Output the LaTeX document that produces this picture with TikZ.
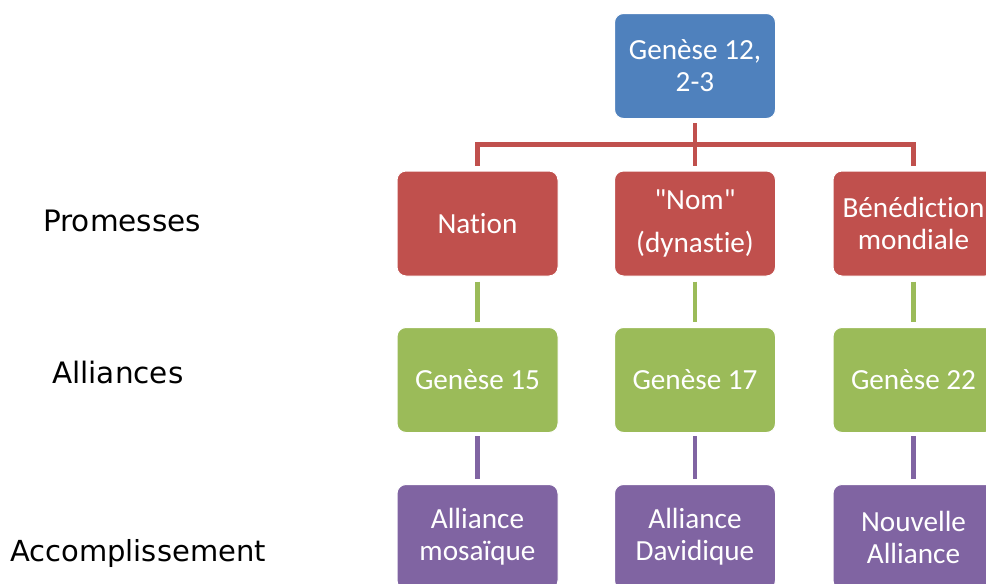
\documentclass[tikz,border=0pt]{standalone}
\usepackage{fontspec}
\setmainfont{Carlito}[Ligatures={TeXOff,CommonOff}]
\newfontfamily\lblfont{DejaVu Sans}
\usetikzlibrary{calc}
\definecolor{cblue}{HTML}{4F81BD}
\definecolor{cred}{HTML}{C0504D}
\definecolor{cgreen}{HTML}{9BBB59}
\definecolor{cpurple}{HTML}{8064A2}
\tikzset{
  boxstyle/.style={draw=white, line width=1pt, rounded corners=9pt, minimum width=161pt, minimum height=105pt, inner sep=0pt, align=center, text=white, font=\fontsize{29.2}{32}\selectfont},
  bluebox/.style={boxstyle, fill=cblue},
  redbox/.style={boxstyle, fill=cred},
  greenbox/.style={boxstyle, fill=cgreen},
  purplebox/.style={boxstyle, fill=cpurple},
  lbl/.style={anchor=base west, inner sep=0pt, font=\lblfont\fontsize{29.5}{32}\selectfont},
  redln/.style={draw=cred, line width=4.5pt},
  greenln/.style={draw=cgreen, line width=4.5pt},
  purpleln/.style={draw=cpurple, line width=4.5pt}
}
\begin{document}
\begin{tikzpicture}[x=1pt,y=-1pt]
\useasboundingbox (0,0) rectangle (986,584);
\clip (0,0) rectangle (986,584);
\fill[white] (0,0) rectangle (986,584);
% boxes
\node[bluebox] (top) at (695,66) {Genèse 12,\\2-3};
\node[redbox] (n1) at (477.5,223.5) {Nation};
\node[redbox] (n2) at (695,223.5) {"Nom"\\[11pt](dynastie)};
\node[redbox] (n3) at (913.5,223.5) {Bénédiction\\mondiale};
\node[greenbox] (g1) at (477.5,380) {Genèse 15};
\node[greenbox] (g2) at (695,380) {Genèse 17};
\node[greenbox] (g3) at (913.5,380) {Genèse 22};
\node[purplebox] (p1) at (477.5,537) {Alliance\\mosaïque};
\node[purplebox] (p2) at (695,537) {Alliance\\Davidique};
\node[purplebox] (p3) at (913.5,537) {Nouvelle\\Alliance};
% labels
\node[lbl] (lp) at (43,231) {Promesses};
\node[lbl] (la) at (52,383) {Alliances};
\node[lbl, font=\lblfont\fontsize{29}{32}\selectfont] (lc) at (10,561) {Accomplissement};
% connectors
\draw[redln] ($(top.south)+(0,4)$) -- ($(n2.north)+(0,-5)$);
\draw[redln] ($(n1.north)+(0,-5)$) |- ($(n3.north)+(0,-26)$) -- ($(n3.north)+(0,-5)$);
\foreach \a/\b in {n1/g1,n2/g2,n3/g3}{
  \draw[greenln] ($(\a.south)+(0,5)$) -- ($(\b.north)+(0,-5)$);
}
\foreach \a/\b in {g1/p1,g2/p2,g3/p3}{
  \draw[purpleln] ($(\a.south)+(0,3)$) -- ($(\b.north)+(0,-5)$);
}
\end{tikzpicture}
\end{document}
